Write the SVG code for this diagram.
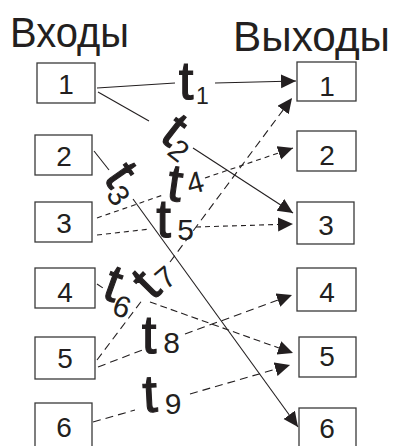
<svg xmlns="http://www.w3.org/2000/svg" width="393" height="446" viewBox="0 0 393 446">
<defs>
<style>
.box{fill:#fff;stroke:#3a3a3a;stroke-width:1.3}
.num{font-family:"Liberation Sans",Arial,sans-serif;font-size:28px;fill:#231f20;text-anchor:middle}
.title{font-family:"Liberation Sans",Arial,sans-serif;font-size:42px;fill:#231f20}
.t{font-family:"Liberation Sans",Arial,sans-serif;font-size:53px;fill:#231f20;stroke:#231f20;stroke-width:1.1;text-anchor:middle}
.s{font-family:"Liberation Sans",Arial,sans-serif;font-size:30px;fill:#231f20;text-anchor:middle}
.ln{fill:none;stroke:#231f20;stroke-width:1.1}
.dot{stroke-dasharray:5,4}
.dash{stroke-dasharray:8,5}
.dash2{stroke-dasharray:7,4}
</style>
<marker id="arr" markerUnits="userSpaceOnUse" markerWidth="16" markerHeight="15" refX="15" refY="7" orient="auto">
<path d="M0,0 L15,7 L0,14 z" fill="#231f20"/>
</marker>
</defs>
<rect width="393" height="446" fill="#fff"/>
<g id="titles">
<text class="title" x="10" y="47" textLength="119" lengthAdjust="spacingAndGlyphs">Входы</text>
<text class="title" x="233" y="51" textLength="157" lengthAdjust="spacingAndGlyphs">Выходы</text>
</g>
<g id="in1"><rect class="box" x="37" y="63" width="58" height="40"/><text class="num" x="66" y="94">1</text></g>
<g id="in2"><rect class="box" x="35" y="135" width="57" height="40"/><text class="num" x="64" y="166">2</text></g>
<g id="in3"><rect class="box" x="35" y="202" width="57" height="40"/><text class="num" x="64" y="233">3</text></g>
<g id="in4"><rect class="box" x="35" y="268" width="60" height="40"/><text class="num" x="65" y="302">4</text></g>
<g id="in5"><rect class="box" x="35" y="337" width="60" height="42"/><text class="num" x="65" y="368">5</text></g>
<g id="in6"><rect class="box" x="35" y="403" width="57" height="45"/><text class="num" x="64" y="437">6</text></g>
<g id="out1"><rect class="box" x="297" y="62" width="59" height="39"/><text class="num" x="327" y="96">1</text></g>
<g id="out2"><rect class="box" x="297" y="131" width="59" height="40"/><text class="num" x="327" y="165">2</text></g>
<g id="out3"><rect class="box" x="297" y="202" width="57" height="42"/><text class="num" x="326" y="235">3</text></g>
<g id="out4"><rect class="box" x="297" y="268" width="59" height="43"/><text class="num" x="327" y="302">4</text></g>
<g id="out5"><rect class="box" x="299" y="337" width="57" height="40"/><text class="num" x="327" y="366">5</text></g>
<g id="out6"><rect class="box" x="299" y="408" width="57" height="42"/><text class="num" x="327" y="438">6</text></g>
<g id="connectors">
<path class="ln" d="M97,88 L175,83"/>
<path class="ln" d="M215,83 L296,81" marker-end="url(#arr)"/>
<path class="ln" d="M98,92 L149,121"/>
<path class="ln" d="M193,148 L293,213" marker-end="url(#arr)"/>
<path class="ln" d="M94,151 L109,170"/>
<path class="ln" d="M133,199 L298,427" marker-end="url(#arr)"/>
<path class="ln dot" d="M97,218 L163,195"/>
<path class="ln dot" d="M205,178 L293,148" marker-end="url(#arr)"/>
<path class="ln dot" d="M97,235 L150,229"/>
<path class="ln dot" d="M196,227 L293,224" marker-end="url(#arr)"/>
<path class="ln dash2" d="M97,284 L103,288"/>
<path class="ln dash2" d="M150,302 L293,353" marker-end="url(#arr)"/>
<path class="ln dash" d="M97,360 L143,299"/>
<path class="ln dash" d="M170,262 L292,98" marker-end="url(#arr)"/>
<path class="ln dash" d="M98,367 L145,349"/>
<path class="ln dash" d="M185,334 L292,295" marker-end="url(#arr)"/>
<path class="ln dash" d="M93,422 L135,410"/>
<path class="ln dash" d="M190,394 L290,365" marker-end="url(#arr)"/>
</g>
<g id="labels">
<text class="t" x="186" y="99">t</text><text class="s" x="202.5" y="104" style="font-size:23px">1</text>
<text class="t" x="174" y="147" transform="rotate(38 174 131)">t</text><text class="s" x="179" y="161" transform="rotate(38 179 150)">2</text>
<text class="t" x="120" y="191" transform="rotate(55 120 175)">t</text><text class="s" x="119" y="206" transform="rotate(55 119 195)">3</text>
<text class="t" x="175" y="201" transform="rotate(8 175 185)">t</text><text class="s" x="195" y="193" transform="rotate(-15 195 182.5)">4</text>
<text class="t" x="163.5" y="237">t</text><text class="s" x="185.5" y="240">5</text>
<text class="t" x="113" y="301" transform="rotate(20 113 285)">t</text><text class="s" x="122" y="317" transform="rotate(20 122 306)">6</text>
<text class="t" x="147" y="301" transform="rotate(-45 147 285)">t</text><text class="s" x="165" y="288" transform="rotate(-40 165 277)">7</text>
<text class="t" x="149" y="353">t</text><text class="s" x="171.5" y="353">8</text>
<text class="t" x="150" y="412" transform="rotate(-3 150 396)">t</text><text class="s" x="173" y="414">9</text>
</g>
</svg>
